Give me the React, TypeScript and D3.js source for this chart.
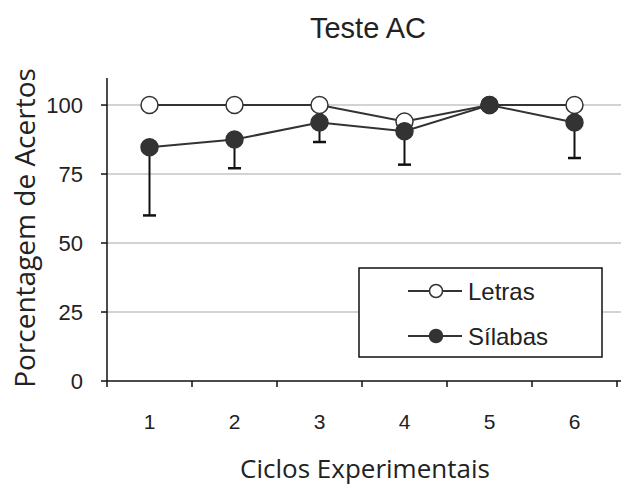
import React, { useEffect, useRef } from 'react';
import * as d3 from 'd3';

const cycles = ['1', '2', '3', '4', '5', '6'];
const letras = [100, 100, 100, 94, 100, 100];
const silabas = [84.7, 87.5, 93.7, 90.5, 100, 93.7];
const silabasLow = [60, 77.1, 86.6, 78.4, 100, 80.8];
const yTicks = [0, 25, 50, 75, 100];

const W = 621;
const H = 489;
const ARIAL = 'Liberation Sans, Arial, sans-serif';
const SEGOE = 'Open Sans, sans-serif';

export default function App() {
  const ref = useRef<SVGSVGElement>(null);

  useEffect(() => {
    if (!ref.current) return;
    const svg = d3.select(ref.current);
    svg.selectAll('*').remove();

    const left = 107, right = 617, top = 78, bottom = 381;
    const x = d3.scaleBand().domain(cycles).range([left, right]).padding(0);
    const y = d3.scaleLinear().domain([0, 109.8]).range([bottom, top]);
    const cx = (i: number) => x(cycles[i])! + x.bandwidth() / 2;

    // gridlines
    svg.append('g').selectAll('line').data(yTicks.filter(d => d > 0)).enter().append('line')
      .attr('x1', left).attr('x2', W).attr('y1', d => y(d)).attr('y2', d => y(d))
      .attr('stroke', '#c4c4c4').attr('stroke-width', 1.5);

    // axes
    svg.append('line').attr('x1', left).attr('x2', left).attr('y1', top).attr('y2', bottom)
      .attr('stroke', '#111').attr('stroke-width', 1.5);
    svg.append('line').attr('x1', left).attr('x2', W).attr('y1', bottom).attr('y2', bottom)
      .attr('stroke', '#111').attr('stroke-width', 1.5);

    svg.append('g').selectAll('line').data(yTicks).enter().append('line')
      .attr('x1', left - 6).attr('x2', left).attr('y1', d => y(d)).attr('y2', d => y(d))
      .attr('stroke', '#111').attr('stroke-width', 1.5);
    svg.append('g').selectAll('text').data(yTicks).enter().append('text')
      .attr('x', 83).attr('y', d => y(d) + 8).attr('text-anchor', 'end')
      .attr('font-family', ARIAL).attr('font-size', 22).attr('fill', '#222')
      .text(d => d);

    const bounds = cycles.map(c => x(c)!).concat([right]);
    svg.append('g').selectAll('line').data(bounds).enter().append('line')
      .attr('x1', d => d).attr('x2', d => d).attr('y1', bottom).attr('y2', bottom + 6)
      .attr('stroke', '#111').attr('stroke-width', 1.5);
    svg.append('g').selectAll('text').data(cycles).enter().append('text')
      .attr('x', (d, i) => cx(i)).attr('y', 428.5).attr('text-anchor', 'middle')
      .attr('font-family', ARIAL).attr('font-size', 21).attr('fill', '#222')
      .text(d => d);

    // error bars (lower only)
    const eb = svg.append('g');
    silabas.forEach((v, i) => {
      if (silabasLow[i] >= v) return;
      eb.append('line').attr('x1', cx(i)).attr('x2', cx(i)).attr('y1', y(v)).attr('y2', y(silabasLow[i]))
        .attr('stroke', '#111').attr('stroke-width', 2);
      eb.append('line').attr('x1', cx(i) - 6.5).attr('x2', cx(i) + 6.5)
        .attr('y1', y(silabasLow[i])).attr('y2', y(silabasLow[i]))
        .attr('stroke', '#111').attr('stroke-width', 2.5);
    });

    const line = d3.line<number>().x((d, i) => cx(i)).y(d => y(d));

    const drawSeries = (vals: number[], fill: string) => {
      svg.append('path').datum(vals).attr('d', line).attr('fill', 'none')
        .attr('stroke', '#333').attr('stroke-width', 2);
      svg.append('g').selectAll('circle').data(vals).enter().append('circle')
        .attr('cx', (d, i) => cx(i)).attr('cy', d => y(d)).attr('r', 8.5)
        .attr('fill', fill).attr('stroke', '#333').attr('stroke-width', 1.5);
    };
    drawSeries(letras, '#fff');
    drawSeries(silabas, '#333');

    // legend
    const lg = svg.append('g');
    lg.append('rect').attr('x', 359).attr('y', 268).attr('width', 243).attr('height', 89)
      .attr('fill', '#fff').attr('stroke', '#111').attr('stroke-width', 1.5);
    const items = [{ label: 'Letras', fill: '#fff', yy: 291 }, { label: 'Sílabas', fill: '#333', yy: 336 }];
    items.forEach(it => {
      lg.append('line').attr('x1', 408).attr('x2', 462).attr('y1', it.yy).attr('y2', it.yy)
        .attr('stroke', '#333').attr('stroke-width', 2);
      lg.append('circle').attr('cx', 436).attr('cy', it.yy).attr('r', 6.5)
        .attr('fill', it.fill).attr('stroke', '#333').attr('stroke-width', 1.5);
      lg.append('text').attr('x', 468).attr('y', it.yy + 8.5)
        .attr('font-family', ARIAL).attr('font-size', 24).attr('fill', '#222')
        .text(it.label);
    });

    // titles
    svg.append('text').attr('x', 368).attr('y', 38).attr('text-anchor', 'middle')
      .attr('font-family', ARIAL).attr('font-size', 29).attr('fill', '#222')
      .text('Teste AC');
    svg.append('text').attr('transform', `translate(35,228) rotate(-90)`)
      .attr('text-anchor', 'middle')
      .attr('font-family', SEGOE).attr('font-size', 28).attr('fill', '#222')
      .text('Porcentagem de Acertos');
    svg.append('text').attr('x', 365).attr('y', 478).attr('text-anchor', 'middle')
      .attr('font-family', SEGOE).attr('font-size', 26).attr('fill', '#222')
      .text('Ciclos Experimentais');
  }, []);

  return (
    <svg ref={ref} width={W} height={H}
      style={{ position: 'absolute', left: 0, top: 0, background: '#fff' }} />
  );
}
